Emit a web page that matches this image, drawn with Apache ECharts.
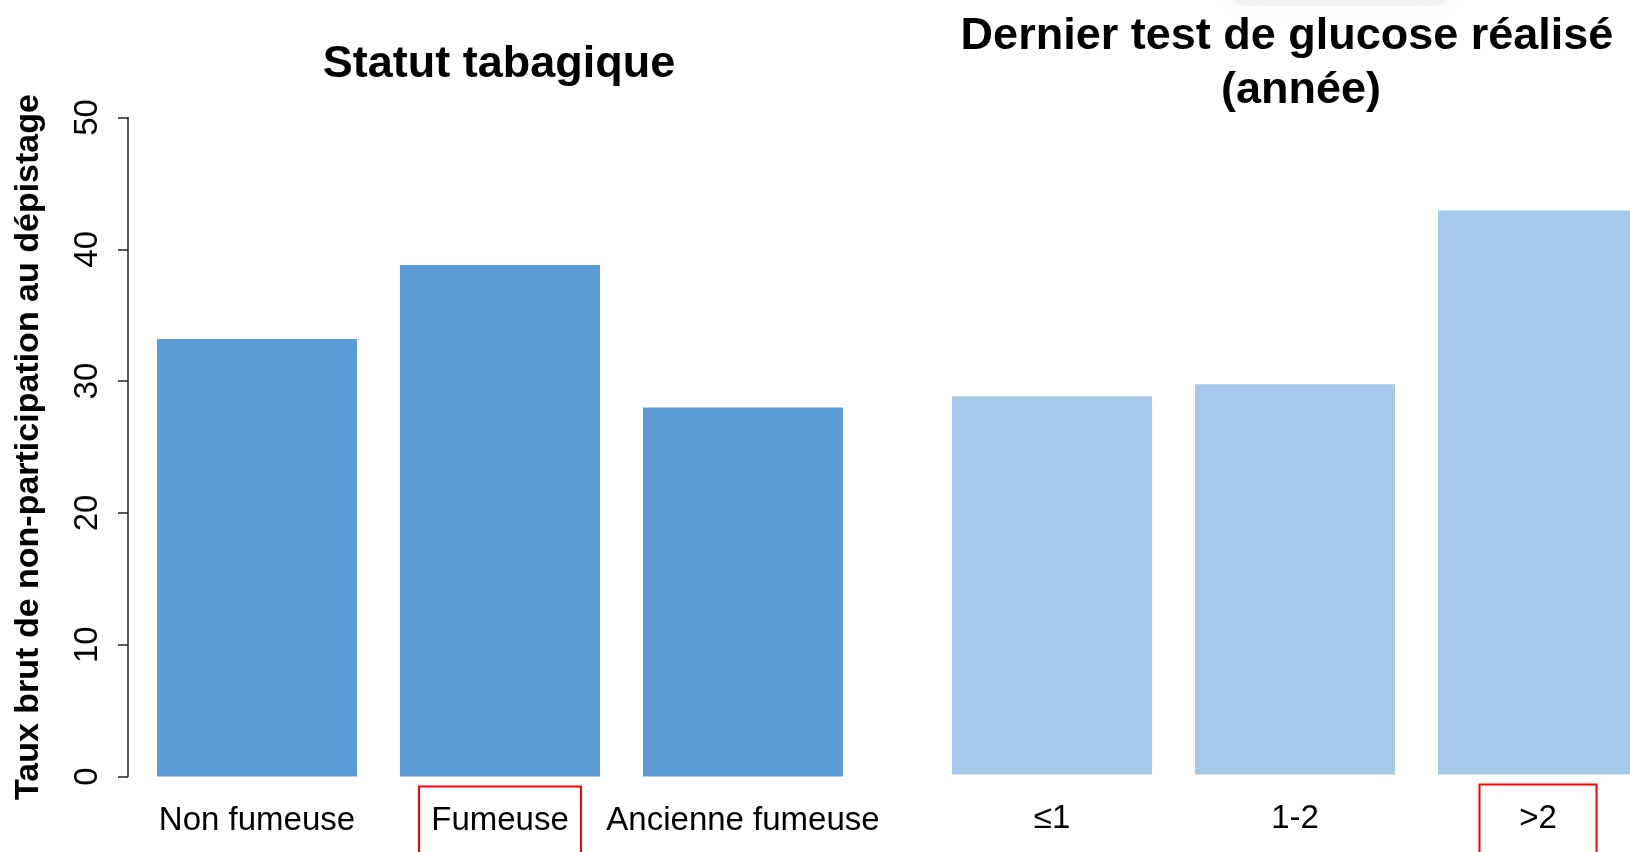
<!DOCTYPE html>
<html>
<head>
<meta charset="utf-8">
<script src="https://cdn.jsdelivr.net/npm/echarts@6/dist/echarts.min.js"></script>
<style>
  html, body { margin: 0; padding: 0; background: #fff; }
  #chart { width: 1630px; height: 852px; }
</style>
</head>
<body>
<div id="chart"></div>
<script>
// données
var tabacCats = ['Non fumeuse', 'Fumeuse', 'Ancienne fumeuse'];
var tabacVals = [33.2, 38.8, 28.0];
var glucoseCats = ['≤1', '1-2', '>2'];
var glucoseVals = [28.7, 29.6, 42.8];
var yTicks = [0, 10, 20, 30, 40, 50];

var FONT = '"Liberation Sans", Arial, sans-serif';

var mychart = echarts.init(document.getElementById('chart'));

// cadres rouges autour de certaines étiquettes
function boxFmt(v) {
    if (v === 'Fumeuse') return '{f| }';
    if (v === '>2') return '{g| }';
    return '';
}
var richBox = {
    f: { width: 162, height: 90, borderColor: '#ff0000', borderWidth: 2, color: 'transparent' },
    g: { width: 117, height: 90, borderColor: '#ff0000', borderWidth: 2, color: 'transparent' }
};

function lblStyle() {
    return { interval: 0, margin: 28, fontSize: 33, fontFamily: FONT, color: '#000', hideOverlap: false };
}
function boxStyle() {
    return { interval: 0, margin: 10, formatter: boxFmt, rich: richBox, hideOverlap: false };
}

var option = {
    backgroundColor: '#fff',
    animation: false,
    title: [
        { text: 'Statut tabagique', left: 499, top: 39, textAlign: 'center', padding: 0,
          textStyle: { fontSize: 45, fontWeight: 'bold', fontFamily: FONT, color: '#000', lineHeight: 52 } },
        { text: 'Dernier test de glucose réalisé', left: 1287, top: 11, textAlign: 'center', padding: 0,
          textStyle: { fontSize: 45, fontWeight: 'bold', fontFamily: FONT, color: '#000', lineHeight: 52 } },
        { text: '(année)', left: 1301, top: 65, textAlign: 'center', padding: 0,
          textStyle: { fontSize: 45, fontWeight: 'bold', fontFamily: FONT, color: '#000', lineHeight: 52 } }
    ],
    grid: [
        { left: 135.5, width: 729, top: 117.5, bottom: 75.5, outerBoundsMode: 'none', containLabel: false },
        { left: 930.5, width: 729, top: 115.5, bottom: 77.5, outerBoundsMode: 'none', containLabel: false }
    ],
    xAxis: [
        { type: 'category', gridIndex: 0, data: tabacCats, position: 'bottom',
          axisLine: { show: false }, axisTick: { show: false }, axisLabel: lblStyle() },
        { type: 'category', gridIndex: 1, data: glucoseCats, position: 'bottom',
          axisLine: { show: false }, axisTick: { show: false }, axisLabel: lblStyle() },
        { type: 'category', gridIndex: 0, data: tabacCats, position: 'bottom',
          axisLine: { show: false }, axisTick: { show: false }, axisLabel: boxStyle() },
        { type: 'category', gridIndex: 1, data: glucoseCats, position: 'bottom',
          axisLine: { show: false }, axisTick: { show: false }, axisLabel: boxStyle() }
    ],
    yAxis: [
        { type: 'value', gridIndex: 0, min: yTicks[0], max: yTicks[yTicks.length - 1], interval: 10,
          offset: 7.5,
          name: 'Taux brut de non-participation au dépistage',
          nameLocation: 'middle', nameGap: 82, nameRotate: 90,
          nameTextStyle: { fontSize: 34, fontWeight: 'bold', fontFamily: FONT, color: '#000' },
          axisLine: { show: true, lineStyle: { color: '#222', width: 1.5 } },
          axisTick: { show: true, length: 10, lineStyle: { color: '#222', width: 1.5 } },
          axisLabel: { rotate: 90, margin: 24, fontSize: 33, fontFamily: FONT, color: '#000' },
          splitLine: { show: false } },
        { type: 'value', gridIndex: 1, min: yTicks[0], max: yTicks[yTicks.length - 1], interval: 10,
          show: false, splitLine: { show: false } }
    ],
    graphic: [
        { type: 'rect', silent: true, z: -1,
          shape: { x: 1230, y: -24, width: 220, height: 30, r: 15 },
          style: { fill: 'rgba(215,215,215,0.25)', shadowBlur: 20, shadowColor: 'rgba(190,190,190,0.5)' } }
    ],
    series: [
        { type: 'bar', xAxisIndex: 0, yAxisIndex: 0, data: tabacVals, barWidth: 200,
          itemStyle: { color: '#5A9BD7' } },
        { type: 'bar', xAxisIndex: 1, yAxisIndex: 1, data: glucoseVals, barWidth: 200,
          itemStyle: { color: '#A6C8EA' } }
    ]
};

mychart.setOption(option);
</script>
</body>
</html>
